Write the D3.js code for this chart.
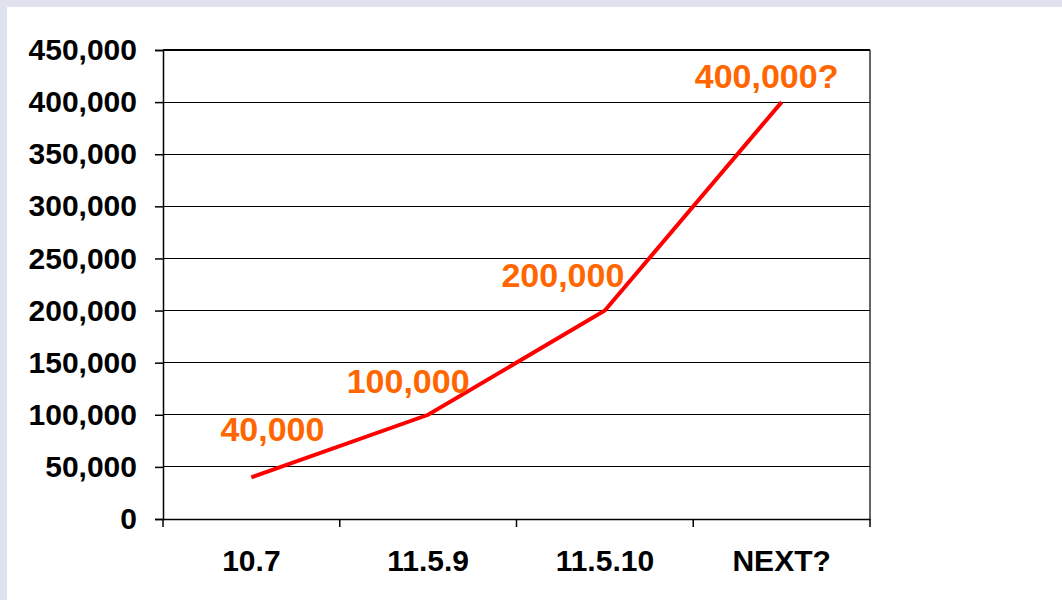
<!DOCTYPE html>
<html>
<head>
<meta charset="utf-8">
<script src="https://cdn.jsdelivr.net/npm/d3@7"></script>
<style>
  html, body { margin: 0; padding: 0; background: #ffffff; }
  svg { display: block; }
</style>
</head>
<body>
<svg id="chart" width="1062" height="600"></svg>
<script>
const categories = ["10.7", "11.5.9", "11.5.10", "NEXT?"];
const values = [40000, 100000, 200000, 400000];
const valueLabels = ["40,000", "100,000", "200,000", "400,000?"];
const yTicks = [0, 50000, 100000, 150000, 200000, 250000, 300000, 350000, 400000, 450000];
// manual label placement offsets (layout, not data)
const labelDx = [21, -20, -42, -15];
const labelDy = [-36, -22, -24, -14];

(function () {
const svg = d3.select("#chart");
const W = 1062, H = 600;

// lavender frame (top and left)
svg.append("rect").attr("x", 0).attr("y", 0).attr("width", W).attr("height", H).attr("fill", "#e0e2ee");
svg.append("rect").attr("x", 7).attr("y", 7).attr("width", W - 7).attr("height", H - 7).attr("fill", "#ffffff");

const pLeft = 163, pRight = 870, pTop = 50, pBottom = 519;

const x = d3.scaleBand().domain(categories).range([pLeft, pRight]).paddingInner(0).paddingOuter(0);
const y = d3.scaleLinear().domain([0, 450000]).range([pBottom, pTop]);

const font = "'Liberation Sans', Arial, sans-serif";

// gridlines
svg.append("g").selectAll("line").data(yTicks.filter(d => d > 0)).join("line")
  .attr("x1", pLeft).attr("x2", pRight)
  .attr("y1", d => y(d)).attr("y2", d => y(d))
  .attr("stroke", "#000").attr("stroke-width", 1.2)
  .attr("shape-rendering", "crispEdges");

// right border
svg.append("line").attr("x1", pRight).attr("x2", pRight).attr("y1", pTop).attr("y2", pBottom)
  .attr("stroke", "#333").attr("stroke-width", 1.5);

// y axis
const yAxis = d3.axisLeft(y).tickValues(yTicks).tickSize(8).tickPadding(18)
  .tickFormat(d3.format(","));
const gy = svg.append("g").attr("transform", `translate(${pLeft},0)`).call(yAxis);
gy.select(".domain").attr("stroke", "#000").attr("stroke-width", 1.5);
gy.selectAll(".tick line").attr("stroke", "#000").attr("stroke-width", 1.5);
gy.selectAll(".tick text").attr("font-family", font).attr("font-size", 30)
  .attr("font-weight", "bold").attr("fill", "#000");

// x axis
const xAxis = d3.axisBottom(x).tickSize(0).tickPadding(0);
const gx = svg.append("g").attr("transform", `translate(0,${pBottom})`).call(xAxis);
gx.select(".domain").attr("stroke", "#000").attr("stroke-width", 1.5);
gx.selectAll(".tick text").attr("font-family", font).attr("font-size", 30)
  .attr("font-weight", "bold").attr("fill", "#000").attr("dy", null).attr("y", 52);
// x ticks at category boundaries
const bounds = categories.map(c => x(c)).concat([x(categories[categories.length - 1]) + x.bandwidth()]);
svg.append("g").selectAll("line").data(bounds).join("line")
  .attr("x1", d => d).attr("x2", d => d).attr("y1", pBottom).attr("y2", pBottom + 8)
  .attr("stroke", "#000").attr("stroke-width", 1.5);

// line
const cx = c => x(c) + x.bandwidth() / 2;
const line = d3.line().x((d, i) => cx(categories[i])).y(d => y(d));
svg.append("path").datum(values).attr("d", line)
  .attr("fill", "none").attr("stroke", "#ff0000").attr("stroke-width", 4)
  .attr("stroke-linejoin", "miter");

// data labels
svg.append("g").selectAll("text").data(values).join("text")
  .attr("x", (d, i) => cx(categories[i]) + labelDx[i])
  .attr("y", (d, i) => y(d) + labelDy[i])
  .attr("text-anchor", "middle")
  .attr("font-family", font).attr("font-size", 34).attr("font-weight", "bold")
  .attr("fill", "#ff6600")
  .text((d, i) => valueLabels[i]);
})();
</script>
</body>
</html>
